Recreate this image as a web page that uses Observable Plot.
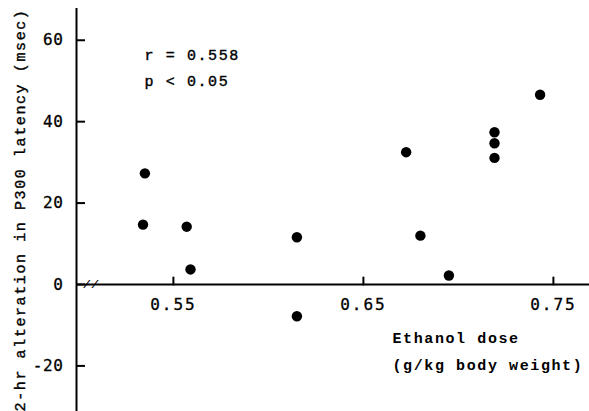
<!DOCTYPE html>
<html><head><meta charset="utf-8">
<script src="https://cdn.jsdelivr.net/npm/d3@7"></script>
<script src="https://cdn.jsdelivr.net/npm/@observablehq/plot@0.6"></script>
<style>
html,body{margin:0;padding:0;background:#fff;}
svg text{letter-spacing:1.6px;}
g[aria-description="x ticks"] text{letter-spacing:2px;}
g[aria-description="y ticks"] text{letter-spacing:0.6px;stroke:#000;stroke-width:0.3px;}
</style>
</head><body><div id="chart"></div>
<script>
// Data
const dose = [0.535, 0.534, 0.557, 0.559, 0.615, 0.615, 0.6725, 0.680, 0.695, 0.719, 0.719, 0.719, 0.743];
const latencyChange = [27.3, 14.7, 14.2, 3.7, 11.6, -7.8, 32.5, 12.0, 2.2, 37.4, 34.7, 31.1, 46.6];
const xTicks = [0.55, 0.65, 0.75];
const yTicks = [-20, 0, 20, 40, 60];
const xDomain = [0.499, 0.769];
const yDomain = [-31.2, 67.8];
const statLines = ["r = 0.558", "p < 0.05"];
const xLabelLines = ["Ethanol dose", "(g/kg body weight)"];
const yLabel = "2-hr alteration in P300 latency (msec)";

const data = dose.map((d, i) => ({dose: d, change: latencyChange[i]}));
const ink = "#000";
const mono = "'Liberation Mono', 'DejaVu Sans Mono', monospace";
const numFont = "'DejaVu Sans Mono', monospace";
const tickShape = {draw(context, l) { context.moveTo(0, 0); context.lineTo(0, -l); }};

const plot = Plot.plot({
  width: 589, height: 411,
  marginLeft: 76, marginRight: 0, marginTop: 8, marginBottom: 0,
  x: {domain: xDomain, axis: null},
  y: {domain: yDomain, label: null},
  style: {fontFamily: mono, color: ink, background: "#fff", overflow: "visible"},
  marks: [
    Plot.ruleX([xDomain[0]], {stroke: ink, strokeWidth: 2}),
    Plot.ruleY([0], {stroke: ink, strokeWidth: 2}),
    Plot.axisY(yTicks, {tickSize: -9, tickPadding: 22, stroke: ink, strokeWidth: 2, fill: ink,
      fontSize: 16, fontFamily: numFont, label: null, tickFormat: d => String(d), ariaDescription: "y ticks"}),
    Plot.vector(xTicks, {x: d => d, y: () => 0, length: 7, anchor: "start", shape: tickShape, stroke: ink, strokeWidth: 2}),
    Plot.text(xTicks, {x: d => d, y: () => 0, text: d => d.toFixed(2), dy: 20, fontSize: 16, fontFamily: numFont,
      fill: ink, stroke: ink, strokeWidth: 0.3, ariaDescription: "x ticks"}),
    Plot.text([xDomain[0]], {x: d => d, y: () => 0, text: () => "//", dx: 15, fontSize: 11, fontWeight: "bold", fontStyle: "italic", fill: ink}),
    Plot.dot(data, {x: "dose", y: "change", r: 5.2, fill: ink, stroke: null}),
    Plot.text([statLines.join("\n")], {frameAnchor: "top-left", textAnchor: "start", lineAnchor: "top",
      dx: 68, dy: 33, lineHeight: 1.73, fontSize: 15, fill: ink, stroke: ink, strokeWidth: 0.4}),
    Plot.text([xLabelLines.join("\n")], {frameAnchor: "bottom-left", textAnchor: "start", lineAnchor: "top",
      dx: 316, dy: -88, lineHeight: 1.8, fontSize: 15, fontWeight: "bold", fill: ink}),
    Plot.text([yLabel], {frameAnchor: "left", rotate: -90, dx: -56, fontSize: 15, textAnchor: "middle", lineAnchor: "middle",
      fill: ink, stroke: ink, strokeWidth: 0.4})
  ]
});
document.getElementById("chart").appendChild(plot);
</script>
</body></html>
